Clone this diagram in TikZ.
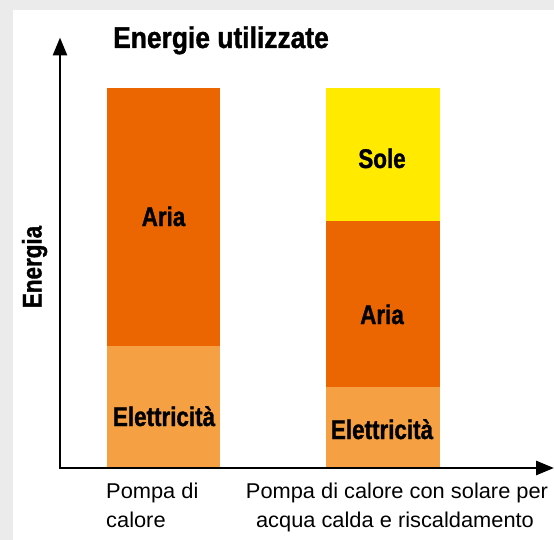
\documentclass[tikz,border=0pt]{standalone}
\usepackage{fontspec}
\usetikzlibrary{arrows.meta}
\newfontfamily\titlefont[FakeStretch=0.88,FakeBold=1.2]{Liberation Sans Bold}
\newfontfamily\barfont[FakeStretch=0.83,FakeBold=1.2]{Liberation Sans Bold}
\newfontfamily\labfont[FakeStretch=1.02]{Liberation Sans}
\definecolor{bggray}{RGB}{235,235,235}
\definecolor{aria}{RGB}{235,102,0}
\definecolor{elett}{RGB}{245,160,66}
\definecolor{sole}{RGB}{255,234,0}
\tikzset{
  barlabel/.style={inner sep=0pt, anchor=base, font=\barfont\fontsize{27}{31}\selectfont},
  catlabel/.style={inner sep=0pt, font=\labfont\fontsize{21.4}{25}\selectfont},
  axis/.style={line width=2.8pt, line join=miter, {Triangle[length=18pt,width=14pt]}-{Triangle[length=18pt,width=14pt]}}
}
\begin{document}
\begin{tikzpicture}[x=1pt,y=-1pt]
\useasboundingbox (0,0) rectangle (554,540);
\fill[bggray] (0,0) rectangle (554,540);
\fill[white] (13,10) rectangle (554,540);
% bars
\fill[aria]  (107,88)  rectangle (220,346);
\fill[elett] (107,346) rectangle (220,468);
\fill[sole]  (326,88)  rectangle (440,221);
\fill[aria]  (326,221) rectangle (440,387);
\fill[elett] (326,387) rectangle (440,468);
% axes
\coordinate (ytip) at (60,37.5);
\coordinate (origin) at (60,468);
\coordinate (xtip) at (554,468);
\draw[axis] (ytip) -- (origin) -- (xtip);
% title
\node[inner sep=0pt, anchor=base west, font=\titlefont\fontsize{30}{35}\selectfont] (title) at (113,48) {Energie utilizzate};
% axis label
\node[barlabel, rotate=90] (ylab) at (41.5,267) {Energia};
% bar labels
\node[barlabel] (aria1) at (163.5,226) {Aria};
\node[barlabel] (el1) at (164,426) {Elettricità};
\node[barlabel] (sole2) at (382,168) {Sole};
\node[barlabel] (aria2) at (382,324) {Aria};
\node[barlabel] (el2) at (382,439) {Elettricità};
% category labels
\node[catlabel, anchor=base west] (c1a) at (106,498) {Pompa di};
\node[catlabel, anchor=base west] (c1b) at (106,527) {calore};
\node[catlabel, anchor=base] (c2a) at (397,498) {Pompa di calore con solare per};
\node[catlabel, anchor=base] (c2b) at (395,527) {acqua calda e riscaldamento};
\end{tikzpicture}
\end{document}
